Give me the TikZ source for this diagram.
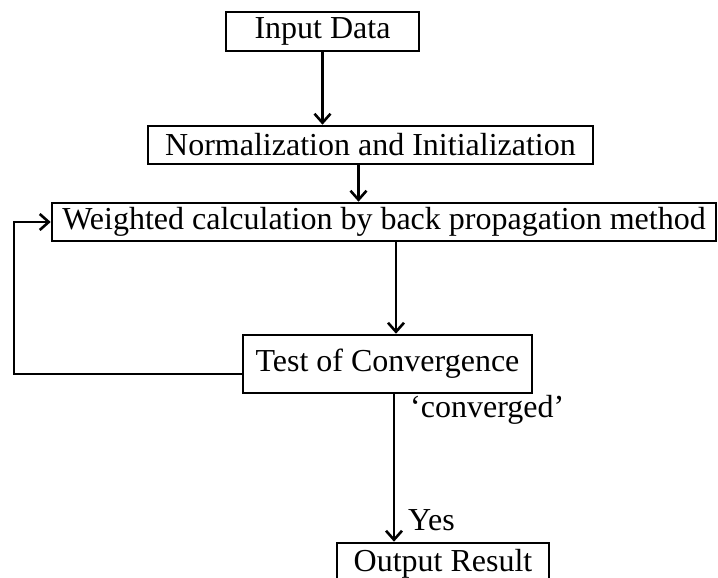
\documentclass[tikz,border=0pt]{standalone}
\usepackage{fontspec}
\setmainfont{Liberation Serif}
\usetikzlibrary{arrows.meta,calc}
\begin{document}
\begin{tikzpicture}[x=1pt,y=-1pt,
  box/.style={draw,line width=2.6pt,inner sep=0pt,font=\fontsize{32}{38}\selectfont},
  arr/.style={line width=2.6pt,-{Straight Barb[length=9pt,width=16pt,line width=2.6pt]}},
  lbl/.style={inner sep=0pt,anchor=west,font=\fontsize{32}{38}\selectfont}]
\useasboundingbox (0,0) rectangle (718,578);
\clip (0,0) rectangle (718,578);
\node[box,minimum width=193pt,minimum height=39pt] (in) at (322.5,31.5) {Input Data};
\node[box,minimum width=445pt,minimum height=38pt] (norm) at (370.5,145) {Normalization and Initialization};
\node[box,minimum width=664pt,minimum height=38pt] (w) at (384,222) {Weighted calculation by back propagation method};
\node[box,minimum width=289pt,minimum height=58pt] (test) at (387.5,364) {Test of Convergence};
\node[box,minimum width=212pt,minimum height=42pt] (out) at (443,564) {Output Result};
\node[lbl] (conv) at (410,410) {‘converged’};
\node[lbl] (yes) at (408,520) {Yes};
\coordinate (fb) at (14,374);
\draw[arr] (in.south) -- (in.south |- norm.north);
\draw[arr] ([xshift=-12pt]norm.south) -- ([xshift=-12pt]norm.south |- w.north);
\draw[arr] ([xshift=8.5pt]test.north |- w.south) -- ([xshift=8.5pt]test.north);
\draw[arr] ([xshift=-49pt]out.north |- test.south) -- ([xshift=-49pt]out.north);
\draw[arr] ([yshift=-10pt]test.west) -- (fb) |- (w.west);
\end{tikzpicture}
\end{document}
